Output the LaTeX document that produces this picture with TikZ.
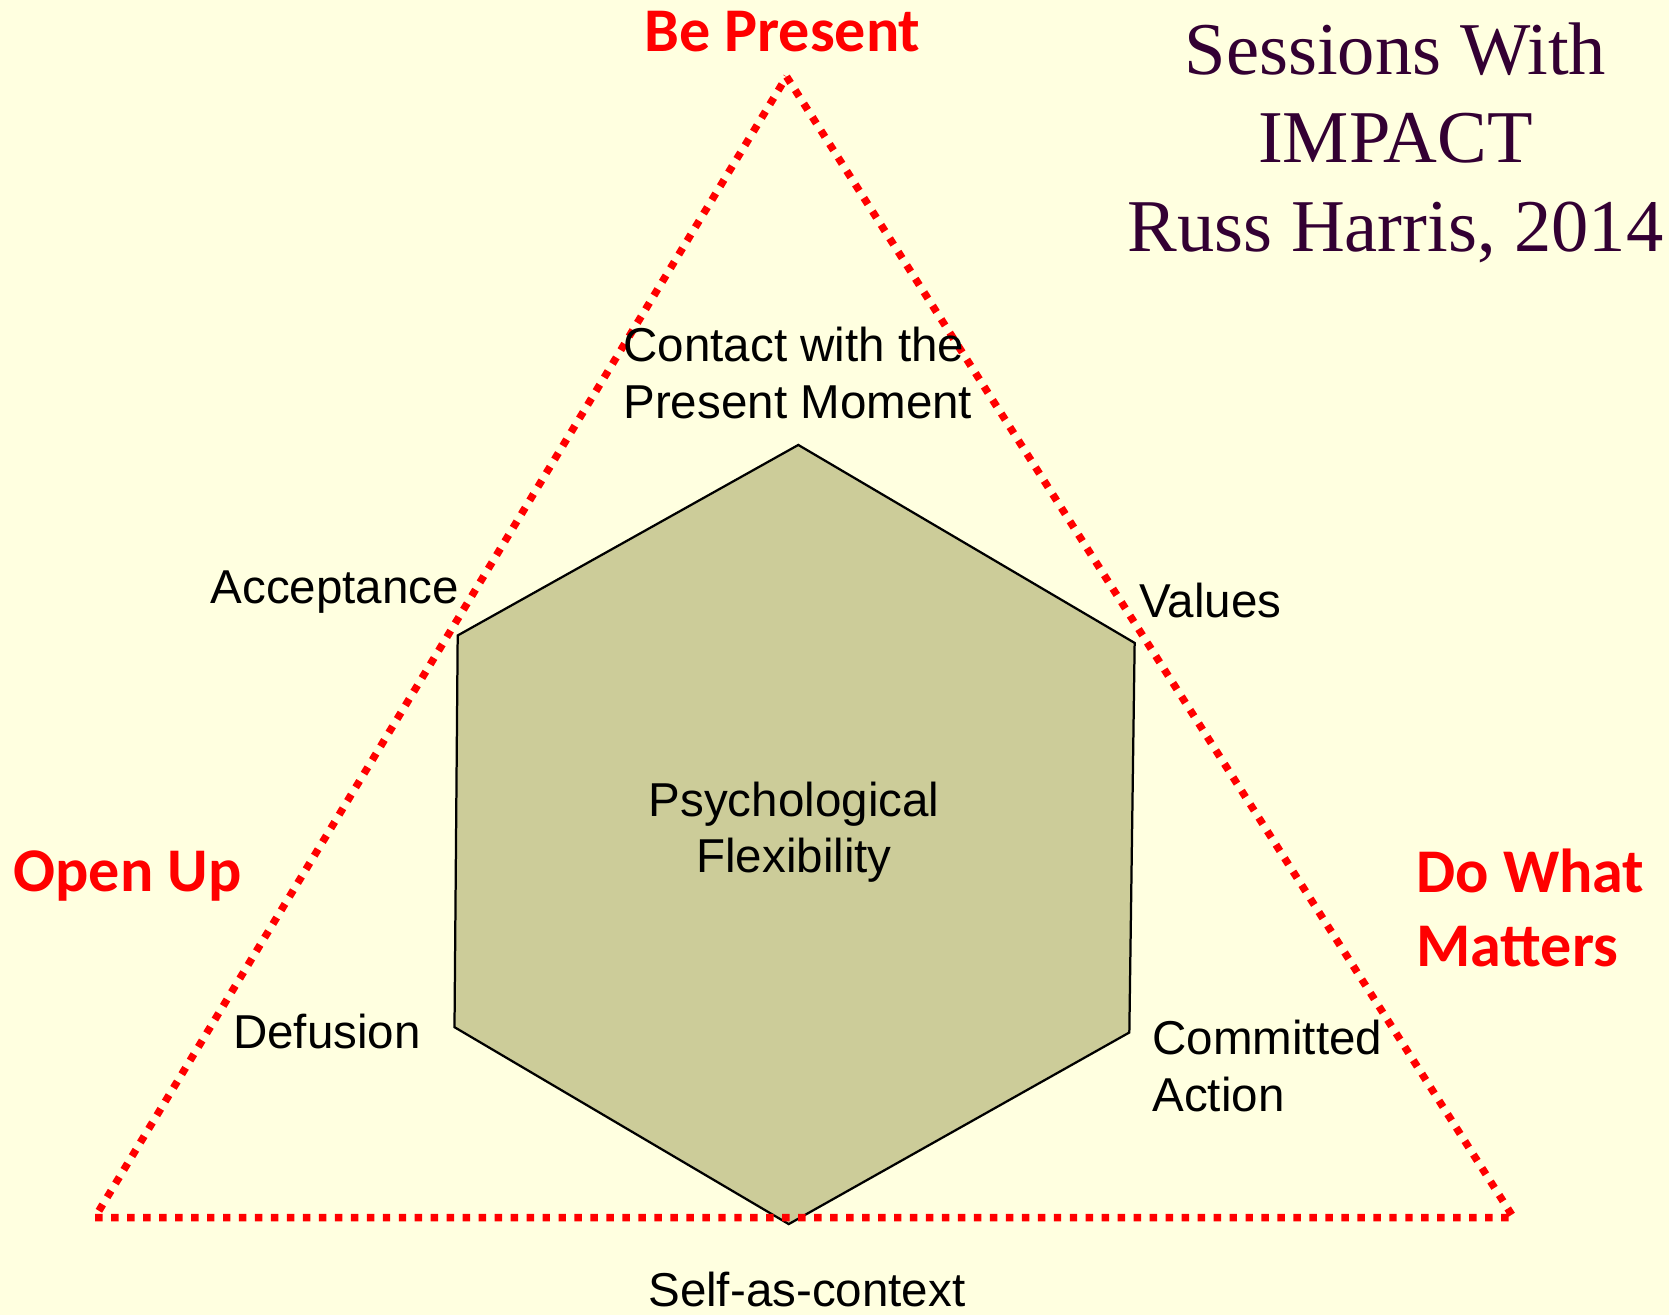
\documentclass[tikz,border=0pt]{standalone}
\usepackage{fontspec}
\setmainfont{Liberation Sans}
\newfontfamily\cornerfont{Carlito}
\newfontfamily\titlefont{Liberation Serif}
\usetikzlibrary{positioning}

\definecolor{paper}{RGB}{255,255,224}
\definecolor{hexfill}{RGB}{204,204,153}
\definecolor{titlecol}{RGB}{51,0,51}

\begin{document}
\begin{tikzpicture}[x=0.01cm, y=-0.01cm,
  corner/.style={font=\cornerfont\bfseries\fontsize{16.6}{19.9}\selectfont, text=red, inner sep=0pt},
  facet/.style={font=\fontsize{12.7}{15.1}\selectfont, inner sep=0pt},
  dots/.style={red, line width=0.07cm, dash pattern=on 0.07cm off 0.08cm}]
\fill[paper] (0,0) rectangle (1568,1235); % background
\useasboundingbox (0,0) rectangle (1568,1235);

% hexagon
\coordinate (hT) at (750,418);
\coordinate (hUR) at (1066,604);
\coordinate (hLR) at (1061,970);
\coordinate (hB) at (741,1150);
\coordinate (hLL) at (427,965);
\coordinate (hUL) at (430,597);
\draw[fill=hexfill, line width=0.6pt] (hT) -- (hUR) -- (hLR) -- (hB) -- (hLL) -- (hUL) -- cycle;

% triangle
\coordinate (tTop) at (739,72);
\coordinate (tR) at (1422,1144);
\coordinate (tL) at (89,1144);
\draw[dots] (tTop) -- (tR) -- (tL) -- cycle;

% corners
\node[corner, anchor=base] (bePresent) at (735,48) {Be Present};
\node[corner, anchor=base west] (openUp) at (12,838) {Open Up};
\node[corner, anchor=base west, align=left] (doWhat) at (1330,908) {Do What\\Matters};

% title (base = last line)
\node[anchor=base, align=center, inner sep=0pt, text=titlecol,
  font=\titlefont\fontsize{19.9}{23.6}\selectfont] (title) at (1311,236)
  {Sessions With\\IMPACT\\Russ Harris, 2014};

% facets
\node[facet, anchor=base west, align=left] (contact) at (585,393) {Contact with the\\Present Moment};
\node[facet, anchor=base east] (accept) at (432,567) {Acceptance};
\node[facet, anchor=base west] (values) at (1070,580) {Values};
\node[facet, anchor=base, align=center] (flex) at (746,820) {Psychological\\Flexibility};
\node[facet, anchor=base east] (defusion) at (396,985) {Defusion};
\node[facet, anchor=base west, align=left] (commit) at (1082,1044) {Committed\\Action};
\node[facet, anchor=base] (self) at (758,1227) {Self-as-context};
\end{tikzpicture}
\end{document}
